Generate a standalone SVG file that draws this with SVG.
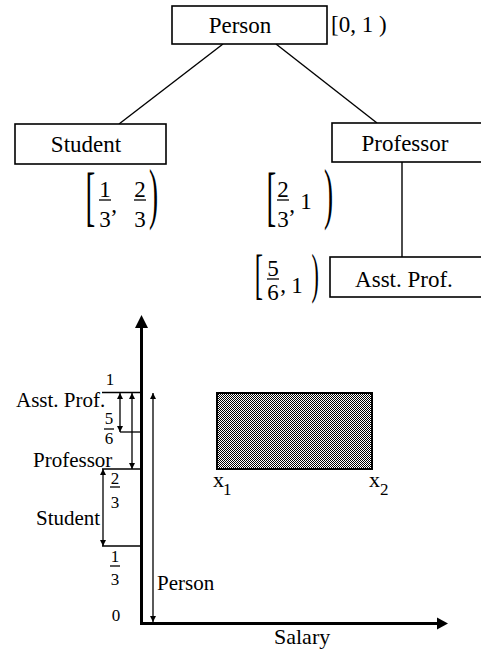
<svg xmlns="http://www.w3.org/2000/svg" width="481" height="653" viewBox="0 0 481 653">
<defs>
<style>
text{fill:#000;font-family:"Liberation Serif","Times New Roman",serif}
.lbl{font-size:23px}
.blbl{font-size:21px}
.num{font-size:23px;text-anchor:middle}
.bnum{font-size:17px;text-anchor:middle}
.box{fill:#fff;stroke:#000;stroke-width:1.6}
.ln{stroke:#000;stroke-width:1.4;fill:none}
.thin{stroke:#000;stroke-width:1.3;fill:none}
.rng{stroke:#000;stroke-width:1.3;fill:none;marker-start:url(#ah);marker-end:url(#ah)}
.axis{stroke:#000;stroke-width:3;fill:none}
</style>
<marker id="ah" viewBox="0 0 10 10" refX="10" refY="5" markerUnits="userSpaceOnUse" markerWidth="7" markerHeight="6" orient="auto-start-reverse">
<path d="M0,0 L10,5 L0,10 z" fill="#000"/>
</marker>
<pattern id="hatch" width="2" height="2" patternUnits="userSpaceOnUse">
<rect width="2" height="2" fill="#fff"/>
<rect width="1" height="1" fill="#000"/>
<rect x="1" y="1" width="1" height="1" fill="#000"/>
</pattern>
</defs>

<g id="connectors">
<line class="ln" x1="223" y1="44" x2="119" y2="124"/>
<line class="ln" x1="276" y1="44" x2="377" y2="123"/>
<line class="ln" x1="402" y1="162" x2="402" y2="257"/>
</g>

<g id="person">
<rect class="box" x="172" y="6" width="155" height="38"/>
<text class="lbl" x="240" y="33" text-anchor="middle">Person</text>
<text class="lbl" x="331" y="32">[0, 1 )</text>
</g>

<g id="student">
<rect class="box" x="15" y="124" width="151" height="40"/>
<text class="lbl" x="86" y="152" text-anchor="middle">Student</text>
<g id="student-interval">
<text transform="translate(85.5,218) scale(0.45,1)" style="font-size:65px">[</text>
<text class="num" x="105" y="197">1</text>
<line class="thin" x1="99" y1="200" x2="111" y2="200"/>
<text class="num" x="105" y="227">3</text>
<text class="num" x="114" y="212">,</text>
<text class="num" x="140" y="197">2</text>
<line class="thin" x1="134" y1="200" x2="146" y2="200"/>
<text class="num" x="140" y="227">3</text>
<text transform="translate(149,216) scale(0.4,1)" style="font-size:68px">)</text>
</g>
</g>

<g id="professor">
<rect class="box" x="332" y="123" width="160" height="39"/>
<text class="lbl" x="405" y="151" text-anchor="middle">Professor</text>
<g id="professor-interval">
<text transform="translate(266.5,218) scale(0.45,1)" style="font-size:65px">[</text>
<text class="num" x="283" y="197">2</text>
<line class="thin" x1="277" y1="200" x2="289" y2="200"/>
<text class="num" x="283" y="227">3</text>
<text class="num" x="292" y="212">,</text>
<text class="num" x="306" y="209">1</text>
<text transform="translate(324,216) scale(0.4,1)" style="font-size:68px">)</text>
</g>
</g>

<g id="asst-prof">
<rect class="box" x="330" y="257" width="160" height="40"/>
<text class="lbl" x="404" y="287" text-anchor="middle">Asst. Prof.</text>
<g id="asst-interval">
<text transform="translate(254.8,293.4) scale(0.45,1)" style="font-size:55px">[</text>
<text class="num" x="273" y="276">5</text>
<line class="thin" x1="267" y1="279" x2="279" y2="279"/>
<text class="num" x="273" y="300">6</text>
<text class="num" x="283" y="292">,</text>
<text class="num" x="297" y="293">1</text>
<text transform="translate(311.5,292) scale(0.4,1)" style="font-size:55px">)</text>
</g>
</g>

<g id="plot">
<line class="axis" x1="141.5" y1="326" x2="141.5" y2="624.5"/>
<path d="M135,328 L141.5,315 L148,328 z" fill="#000"/>
<line class="axis" x1="140" y1="623.5" x2="438" y2="623.5"/>
<path d="M437,617.5 L448,623.5 L437,629.5 z" fill="#000"/>

<line class="thin" x1="102" y1="392.5" x2="141" y2="392.5"/>
<line class="thin" x1="120" y1="432" x2="141" y2="432"/>
<line class="thin" x1="102" y1="469" x2="141" y2="469"/>
<line class="thin" x1="102" y1="546" x2="141" y2="546"/>

<line class="rng" x1="120" y1="393" x2="120" y2="432"/>
<line class="rng" x1="132" y1="393" x2="132" y2="469"/>
<line class="rng" x1="103" y1="469" x2="103" y2="546"/>
<line class="rng" x1="153" y1="393" x2="153" y2="622"/>

<text class="bnum" x="110" y="385">1</text>
<text class="bnum" x="109" y="424">5</text>
<line class="thin" x1="104" y1="429" x2="114" y2="429"/>
<text class="bnum" x="109" y="444">6</text>
<text class="bnum" x="115" y="484">2</text>
<line class="thin" x1="110" y1="487" x2="120" y2="487"/>
<text class="bnum" x="115" y="508">3</text>
<text class="bnum" x="115" y="562">1</text>
<line class="thin" x1="110" y1="566" x2="120" y2="566"/>
<text class="bnum" x="115" y="585">3</text>
<text class="bnum" x="116" y="621">0</text>

<text class="blbl" x="16" y="407">Asst. Prof.</text>
<text class="blbl" x="33" y="467">Professor</text>
<text class="blbl" x="36" y="525">Student</text>
<text class="blbl" x="157" y="590">Person</text>
<text class="lbl" x="274" y="644" style="font-size:22px">Salary</text>

<rect x="217" y="393" width="155" height="76" fill="url(#hatch)" stroke="#000" stroke-width="2"/>
<text x="213" y="487" style="font-size:22px">x</text>
<text x="223" y="495" style="font-size:17px">1</text>
<text x="369" y="487" style="font-size:22px">x</text>
<text x="380" y="495" style="font-size:17px">2</text>
</g>
</svg>
